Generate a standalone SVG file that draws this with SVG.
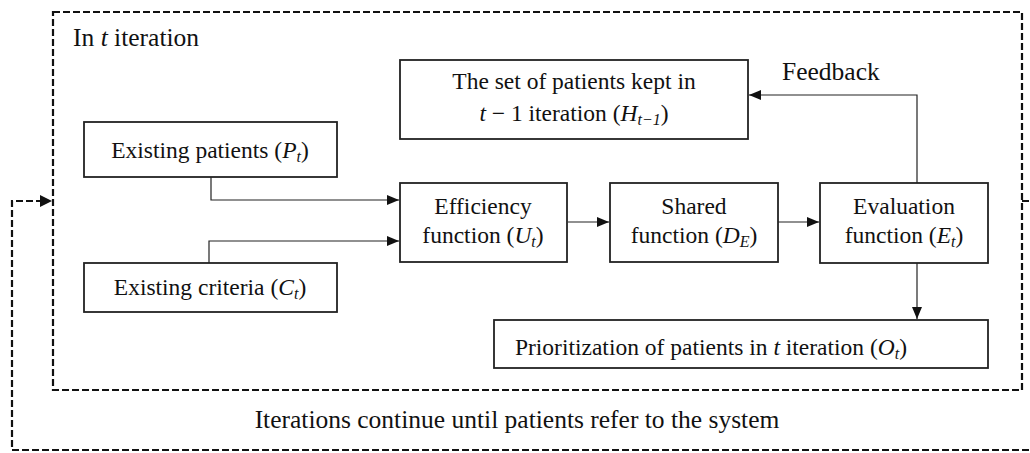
<svg xmlns="http://www.w3.org/2000/svg" width="1030" height="453" viewBox="0 0 1030 453">
<style>
  .box { fill: #ffffff; stroke: #222; stroke-width: 1.8; }
  .dash { fill: none; stroke: #111; stroke-width: 2.2; stroke-dasharray: 7 3; }
  .conn { fill: none; stroke: #222; stroke-width: 1.2; }
  text { font-family: "Liberation Serif", "Times New Roman", serif; font-size: 23.5px; fill: #111; }
  .c { text-anchor: middle; }
  .m { font-style: italic; }
  .s { font-style: italic; font-size: 16px; }
  .big { font-size: 25.5px; }
</style>
<defs>
  <marker id="arr" viewBox="0 0 12 10" refX="12" refY="5" markerWidth="12" markerHeight="10" markerUnits="userSpaceOnUse" orient="auto">
    <path d="M0,0 L12,5 L0,10 Z" fill="#111"/>
  </marker>
</defs>
<rect width="1030" height="453" fill="#ffffff"/>

<g id="frames">
  <rect class="dash" x="53" y="12" width="969" height="378"/>
  <path class="dash" d="M1022,201 H1036 V450 H12 V201 H40" />
  <path d="M40,195 L52,201 L40,207 Z" fill="#111"/>
  <text class="big" x="73" y="46">In <tspan class="m">t</tspan> iteration</text>
  <text class="c big" x="517" y="428">Iterations continue until patients refer to the system</text>
</g>

<g id="connectors">
  <path class="conn" d="M211,177 V200 H399" marker-end="url(#arr)"/>
  <path class="conn" d="M209,263 V241 H399" marker-end="url(#arr)"/>
  <path class="conn" d="M568,222 H609" marker-end="url(#arr)"/>
  <path class="conn" d="M778,222 H819" marker-end="url(#arr)"/>
  <path class="conn" d="M917,183 V95 H749" marker-end="url(#arr)"/>
  <path class="conn" d="M917,263 V319" marker-end="url(#arr)"/>
  <text class="big" x="782" y="80">Feedback</text>
</g>

<g id="node-history">
  <rect class="box" x="400" y="60" width="348" height="79"/>
  <text class="c" x="574" y="89">The set of patients kept in</text>
  <text class="c" x="574" y="121"><tspan class="m">t</tspan> − 1 iteration (<tspan class="m">H</tspan><tspan class="s" dy="4">t−1</tspan><tspan dy="-4">)</tspan></text>
</g>

<g id="node-patients">
  <rect class="box" x="84" y="122" width="253" height="55"/>
  <text class="c" x="210" y="158">Existing patients (<tspan class="m">P</tspan><tspan class="s" dy="4">t</tspan><tspan dy="-4">)</tspan></text>
</g>

<g id="node-criteria">
  <rect class="box" x="84" y="263" width="253" height="49"/>
  <text class="c" x="210" y="295">Existing criteria (<tspan class="m">C</tspan><tspan class="s" dy="4">t</tspan><tspan dy="-4">)</tspan></text>
</g>

<g id="node-efficiency">
  <rect class="box" x="400" y="183" width="167" height="79"/>
  <text class="c" x="483" y="214">Efficiency</text>
  <text class="c" x="483" y="243">function (<tspan class="m">U</tspan><tspan class="s" dy="4">t</tspan><tspan dy="-4">)</tspan></text>
</g>

<g id="node-shared">
  <rect class="box" x="610" y="183" width="168" height="79"/>
  <text class="c" x="694" y="214">Shared</text>
  <text class="c" x="694" y="243">function (<tspan class="m">D</tspan><tspan class="s" dy="4">E</tspan><tspan dy="-4">)</tspan></text>
</g>

<g id="node-evaluation">
  <rect class="box" x="820" y="183" width="168" height="80"/>
  <text class="c" x="904" y="214">Evaluation</text>
  <text class="c" x="904" y="243">function (<tspan class="m">E</tspan><tspan class="s" dy="4">t</tspan><tspan dy="-4">)</tspan></text>
</g>

<g id="node-prioritization">
  <rect class="box" x="494" y="320" width="494" height="48"/>
  <text class="c" x="711" y="355">Prioritization of patients in <tspan class="m">t</tspan> iteration (<tspan class="m">O</tspan><tspan class="s" dy="4">t</tspan><tspan dy="-4">)</tspan></text>
</g>
</svg>
